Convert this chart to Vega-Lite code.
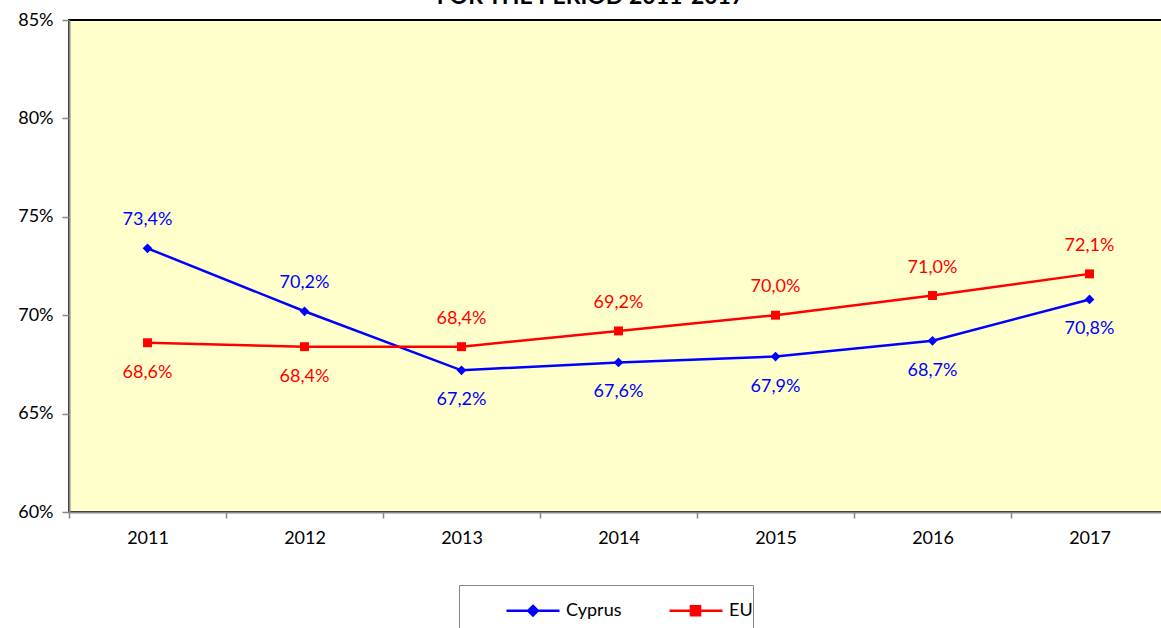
{
  "$schema": "https://vega.github.io/schema/vega-lite/v6.json",
  "width": 1099,
  "height": 492,
  "autosize": {"type": "none"},
  "padding": {"left": 69, "top": 20, "right": 0, "bottom": 116},
  "background": "white",
  "config": {
    "font": "Lato",
    "locale": {"number": {"decimal": ",", "thousands": ".", "grouping": [3], "currency": ["", " €"]}},
    "view": {"fill": "#FFFFCC", "stroke": "#000000", "strokeWidth": 2}
  },
  "title": {
    "text": "FOR THE PERIOD 2011-2017",
    "fontSize": 23,
    "fontWeight": "bold",
    "font": "Lato",
    "color": "#000000",
    "anchor": "middle",
    "baseline": "alphabetic",
    "offset": 0,
    "dy": 16,
    "dx": -28
  },
  "data": {
    "values": [
      {"year": "2011", "series": "Cyprus", "value": 0.734},
      {"year": "2012", "series": "Cyprus", "value": 0.702},
      {"year": "2013", "series": "Cyprus", "value": 0.672},
      {"year": "2014", "series": "Cyprus", "value": 0.676},
      {"year": "2015", "series": "Cyprus", "value": 0.679},
      {"year": "2016", "series": "Cyprus", "value": 0.687},
      {"year": "2017", "series": "Cyprus", "value": 0.708},
      {"year": "2011", "series": "EU", "value": 0.686},
      {"year": "2012", "series": "EU", "value": 0.684},
      {"year": "2013", "series": "EU", "value": 0.684},
      {"year": "2014", "series": "EU", "value": 0.692},
      {"year": "2015", "series": "EU", "value": 0.700},
      {"year": "2016", "series": "EU", "value": 0.710},
      {"year": "2017", "series": "EU", "value": 0.721}
    ]
  },
  "encoding": {
    "x": {
      "field": "year",
      "type": "ordinal",
      "bandPosition": 0.5,
      "scale": {"type": "band", "paddingInner": 0, "paddingOuter": 0},
      "axis": {
        "title": null,
        "labelAngle": 0,
        "labelFontSize": 18,
        "labelColor": "#000000",
        "labelFont": "Lato",
        "tickBand": "extent",
        "tickSize": 6,
        "tickColor": "#868686",
        "tickWidth": 1.5,
        "domainColor": "#868686",
        "domainWidth": 2,
        "labelPadding": 11,
        "grid": false
      }
    },
    "y": {
      "field": "value",
      "type": "quantitative",
      "scale": {"domain": [0.6, 0.85], "nice": false, "zero": false},
      "axis": {
        "title": null,
        "values": [0.6, 0.65, 0.7, 0.75, 0.8, 0.85],
        "format": ".0%",
        "labelFontSize": 18,
        "labelColor": "#000000",
        "labelFont": "Lato",
        "tickSize": 7,
        "tickColor": "#868686",
        "tickWidth": 1.5,
        "domainColor": "#868686",
        "domainWidth": 2,
        "labelPadding": 9,
        "grid": false
      }
    },
    "color": {
      "field": "series",
      "type": "nominal",
      "scale": {"domain": ["Cyprus", "EU"], "range": ["#0000FF", "#FF0000"]},
      "legend": null
    }
  },
  "layer": [
    {
      "mark": {"type": "line", "strokeWidth": 2.5},
      "encoding": {
        "color": {
          "field": "series",
          "type": "nominal",
          "scale": {"domain": ["Cyprus", "EU"], "range": ["#0000FF", "#FF0000"]},
          "legend": {
            "title": null,
            "orient": "none",
            "direction": "horizontal",
            "legendX": 390,
            "legendY": 565,
            "padding": 0,
            "fillColor": "#FFFFFF",
            "strokeColor": "#868686",
            "symbolSize": 2304,
            "symbolStrokeWidth": 2.5,
            "labelOffset": 56,
            "labelFontSize": 18,
            "labelFont": "Lato",
            "labelColor": "#000000",
            "columnPadding": -6,
            "gridAlign": "all",
            "encode": {
              "symbols": {
                "update": {
                  "shape": {"signal": "datum.value === 'Cyprus' ? 'M-1,-1M1,1M0.917,0L3.125,0M2.02,-0.2L2.22,0L2.02,0.2L1.82,0Z' : 'M-1,-1M1,1M0.917,0L3.125,0M1.81,-0.19L2.19,-0.19L2.19,0.19L1.81,0.19Z'"},
                  "fill": {"scale": "color", "field": "value"},
                  "stroke": {"scale": "color", "field": "value"},
                  "fillOpacity": {"value": 1},
                  "strokeWidth": {"value": 2.5},
                  "size": {"value": 2304}
                }
              }
            }
          }
        }
      }
    },
    {
      "transform": [{"filter": "datum.series === 'Cyprus'"}],
      "mark": {"type": "point", "filled": true, "opacity": 1, "shape": "diamond", "size": 95}
    },
    {
      "transform": [{"filter": "datum.series === 'EU'"}],
      "mark": {"type": "point", "filled": true, "opacity": 1, "shape": "square", "size": 80}
    },
    {
      "transform": [
        {"filter": "(datum.series === 'Cyprus' && (datum.year === '2011' || datum.year === '2012')) || (datum.series === 'EU' && datum.year >= '2013')"}
      ],
      "mark": {"type": "text", "fontSize": 18, "font": "Lato", "baseline": "middle", "dy": -28},
      "encoding": {
        "text": {"field": "value", "type": "quantitative", "format": ".1%"}
      }
    },
    {
      "transform": [
        {"filter": "!((datum.series === 'Cyprus' && (datum.year === '2011' || datum.year === '2012')) || (datum.series === 'EU' && datum.year >= '2013'))"}
      ],
      "mark": {"type": "text", "fontSize": 18, "font": "Lato", "baseline": "middle", "dy": 30},
      "encoding": {
        "text": {"field": "value", "type": "quantitative", "format": ".1%"}
      }
    }
  ]
}
